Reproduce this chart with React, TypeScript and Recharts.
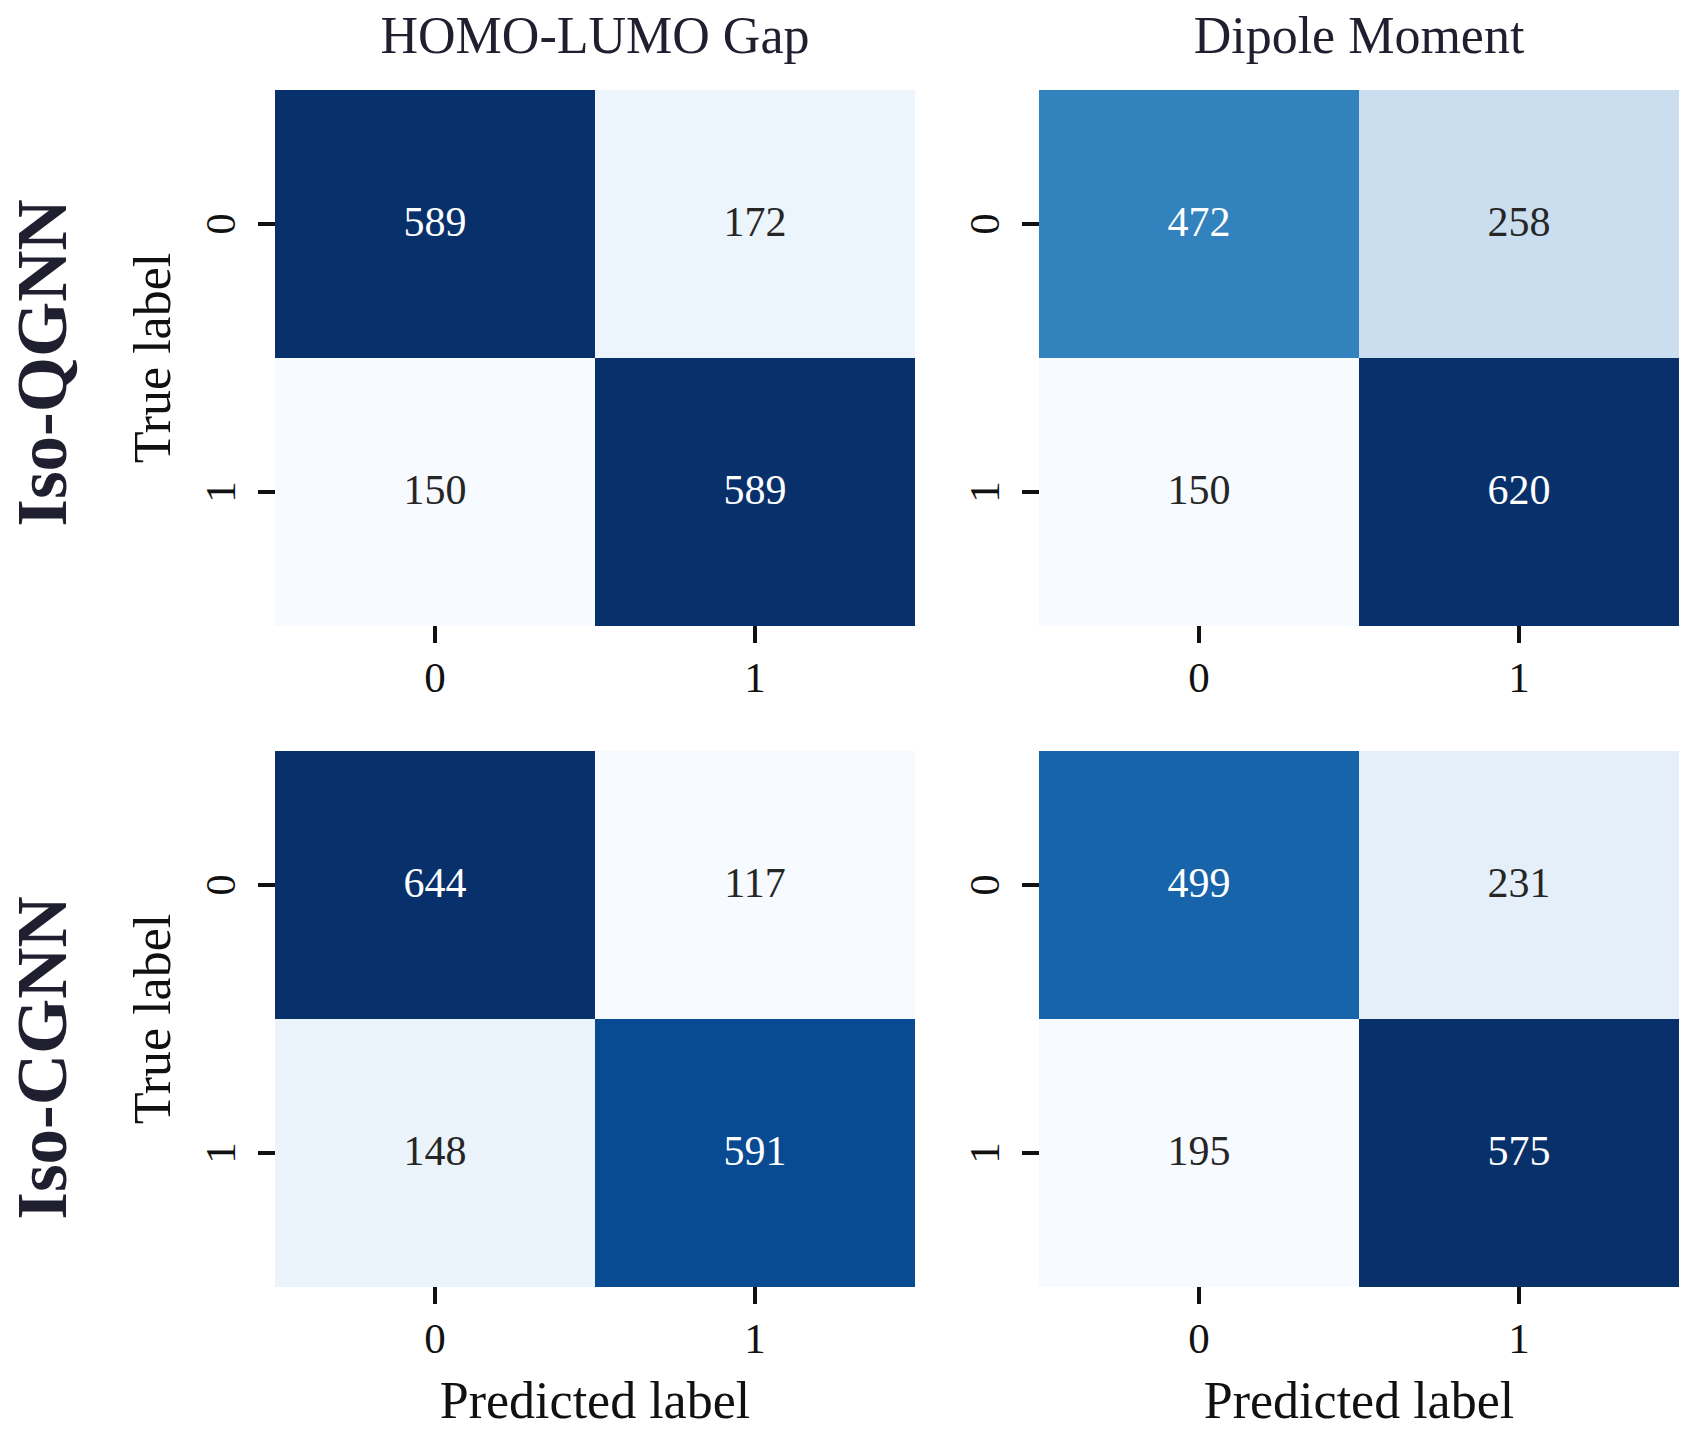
import { BarChart, Bar, XAxis, YAxis, Cell, LabelList } from 'recharts';

const predictedLabels = ['0', '1'];
const trueLabels = ['0', '1'];
const propertyTitles = ['HOMO-LUMO Gap', 'Dipole Moment'];
const modelNames = ['Iso-QGNN', 'Iso-CGNN'];

// rows = true label, columns = predicted label
const qgnnHomoLumo = [
  [589, 172],
  [150, 589],
];
const qgnnDipole = [
  [472, 258],
  [150, 620],
];
const cgnnHomoLumo = [
  [644, 117],
  [148, 591],
];
const cgnnDipole = [
  [499, 231],
  [195, 575],
];

const panels = [
  [qgnnHomoLumo, qgnnDipole],
  [cgnnHomoLumo, cgnnDipole],
];

// matplotlib "Blues"
const BLUES = ['#f7fbff', '#deebf7', '#c6dbef', '#9ecae1', '#6baed6', '#4292c6', '#2171b5', '#08519c', '#08306b'];

const FONT = '"Liberation Serif", "Times New Roman", serif';

function hexToRgb(h: string) {
  const n = parseInt(h.slice(1), 16);
  return [(n >> 16) & 255, (n >> 8) & 255, n & 255];
}

function blues(t: number) {
  const s = Math.max(0, Math.min(1, t)) * (BLUES.length - 1);
  const i = Math.min(Math.floor(s), BLUES.length - 2);
  const f = s - i;
  const a = hexToRgb(BLUES[i]);
  const b = hexToRgb(BLUES[i + 1]);
  return a.map((v, k) => Math.round(v + (b[k] - v) * f));
}

function luminance(rgb: number[]) {
  const lin = rgb.map((v) => {
    const c = v / 255;
    return c <= 0.03928 ? c / 12.92 : Math.pow((c + 0.055) / 1.055, 2.4);
  });
  return 0.2126 * lin[0] + 0.7152 * lin[1] + 0.0722 * lin[2];
}

const PLOT_W = 640;
const PLOT_H = 536;
const Y_AXIS_W = 110;
const X_AXIS_H = 80;
const colLefts = [275, 1039];
const rowTops = [90, 751];

const XTick = (props: any) => {
  const { x, y, payload } = props;
  return (
    <text x={x} y={y + 49} textAnchor="middle" fontFamily={FONT} fontSize={43} fill="#111">
      {payload.value}
    </text>
  );
};

const YTick = (props: any) => {
  const { x, y, payload } = props;
  const tx = x - 23;
  return (
    <text
      x={tx}
      y={y}
      textAnchor="middle"
      fontFamily={FONT}
      fontSize={43}
      fill="#111"
      transform={`rotate(-90, ${tx}, ${y})`}
    >
      {trueLabels[Math.floor(payload.value)]}
    </text>
  );
};

function ConfusionPanel({ matrix, left, top }: { matrix: number[][]; left: number; top: number }) {
  const flat = matrix.flat();
  const vmin = Math.min(...flat);
  const vmax = Math.max(...flat);
  const rgbOf = (v: number) => blues((v - vmin) / (vmax - vmin));
  const fillOf = (v: number) => {
    const [r, g, b] = rgbOf(v);
    return `rgb(${r},${g},${b})`;
  };
  const textOf = (v: number) => (luminance(rgbOf(v)) > 0.408 ? '#262626' : '#ffffff');

  const data = predictedLabels.map((p, c) => {
    const row: any = { pred: p };
    trueLabels.forEach((_, r) => {
      row[`span${r}`] = 1;
      row[`count${r}`] = matrix[r][c];
    });
    return row;
  });

  const renderCount = (props: any) => {
    const vb = props.viewBox || props;
    const { x, y, width, height } = vb;
    const v = Number(props.value);
    const cx = x + width / 2;
    const cy = y + height / 2;
    return (
      <text x={cx} y={cy + 12} textAnchor="middle" fontFamily={FONT} fontSize={42} fill={textOf(v)}>
        {v}
      </text>
    );
  };

  return (
    <div style={{ position: 'absolute', left: left - Y_AXIS_W, top }}>
      <BarChart
        width={PLOT_W + Y_AXIS_W}
        height={PLOT_H + X_AXIS_H}
        data={data}
        margin={{ top: 0, right: 0, bottom: 0, left: 0 }}
        barCategoryGap={0}
        barGap={0}
      >
        <XAxis
          dataKey="pred"
          type="category"
          height={X_AXIS_H}
          axisLine={false}
          stroke="#111"
          tickLine={{ stroke: '#111', strokeWidth: 4 }}
          tickSize={17}
          tickMargin={0}
          interval={0}
          tick={<XTick />}
          padding={{ left: 0, right: 0 }}
        />
        <YAxis
          type="number"
          domain={[0, trueLabels.length]}
          reversed
          allowDataOverflow
          ticks={trueLabels.map((_, i) => i + 0.5)}
          interval={0}
          width={Y_AXIS_W}
          axisLine={false}
          stroke="#111"
          tickLine={{ stroke: '#111', strokeWidth: 4 }}
          tickSize={17}
          tickMargin={0}
          tick={<YTick />}
        />
        {trueLabels.map((_, r) => (
          <Bar key={r} dataKey={`span${r}`} stackId="cm" isAnimationActive={false}>
            {data.map((d, c) => (
              <Cell key={c} fill={fillOf(d[`count${r}`])} stroke="none" />
            ))}
            <LabelList dataKey={`count${r}`} content={renderCount} />
          </Bar>
        ))}
      </BarChart>
    </div>
  );
}

export default function App() {
  return (
    <div
      style={{
        position: 'absolute',
        left: 0,
        top: 0,
        width: 1695,
        height: 1436,
        background: '#ffffff',
        overflow: 'hidden',
      }}
    >
      {panels.map((row, ri) =>
        row.map((m, ci) => <ConfusionPanel key={`${ri}-${ci}`} matrix={m} left={colLefts[ci]} top={rowTops[ri]} />)
      )}
      <svg width={1695} height={1436} style={{ position: 'absolute', left: 0, top: 0, pointerEvents: 'none' }}>
        {propertyTitles.map((t, ci) => (
          <text
            key={t}
            x={colLefts[ci] + PLOT_W / 2}
            y={53}
            textAnchor="middle"
            fontFamily={FONT}
            fontSize={52}
            fill="#1f1f2f"
          >
            {t}
          </text>
        ))}
        {propertyTitles.map((t, ci) => (
          <text
            key={`x-${t}`}
            x={colLefts[ci] + PLOT_W / 2}
            y={1418}
            textAnchor="middle"
            fontFamily={FONT}
            fontSize={52}
            fill="#111"
          >
            Predicted label
          </text>
        ))}
        {modelNames.map((name, ri) => {
          const cy = rowTops[ri] + PLOT_H / 2;
          const ny = cy + (ri === 0 ? 5 : 39);
          return (
            <g key={name}>
              <text
                x={170}
                y={cy}
                textAnchor="middle"
                fontFamily={FONT}
                fontSize={52}
                fill="#111"
                transform={`rotate(-90, 170, ${cy})`}
              >
                True label
              </text>
              <text
                x={66}
                y={ny}
                textAnchor="middle"
                fontFamily={FONT}
                fontWeight="bold"
                fontSize={71}
                fill="#1f1f2f"
                transform={`rotate(-90, 66, ${ny})`}
              >
                {name}
              </text>
            </g>
          );
        })}
      </svg>
    </div>
  );
}
